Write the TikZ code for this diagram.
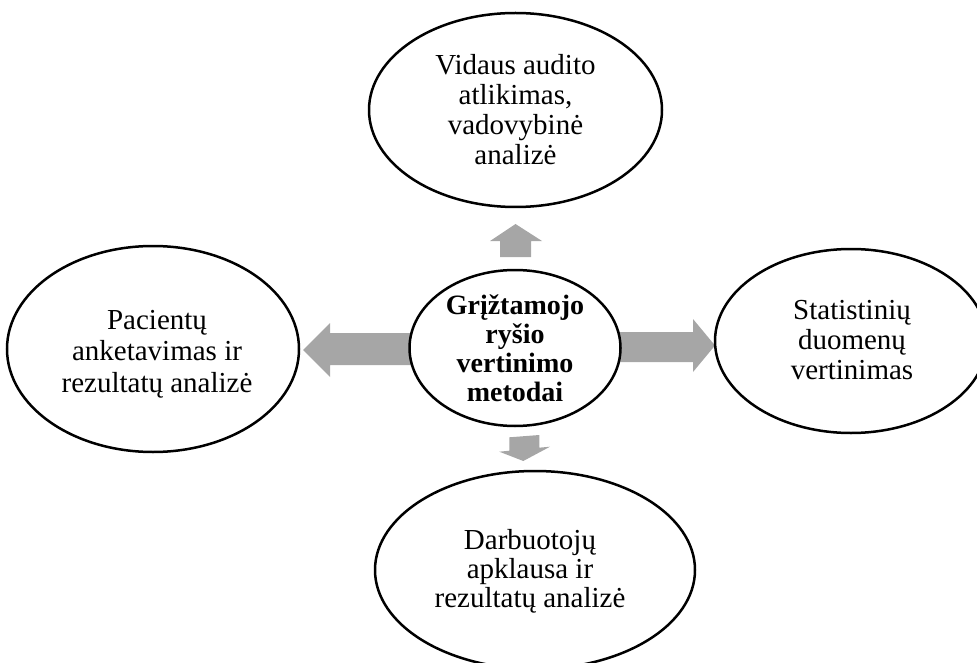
\documentclass[tikz,border=0pt]{standalone}
\usepackage{fontspec}
\setmainfont{Liberation Serif}
\usetikzlibrary{shapes.geometric}
\definecolor{arrowgray}{RGB}{166,166,166}
\begin{document}
\begin{tikzpicture}[x=1pt,y=-1pt,
  bubble/.style={draw=black, line width=2.5pt, fill=white, ellipse, inner sep=0pt},
  bubbletext/.style={align=center, inner sep=0pt, font=\fontsize{29}{30.5}\selectfont},
  hubtext/.style={align=center, inner sep=0pt, font=\fontsize{28}{29}\selectfont\bfseries},
  blockarrow/.style={fill=arrowgray, draw=none}]
\useasboundingbox (0,0) rectangle (977,663);
\clip (0,0) rectangle (977,663);

% block arrows, drawn first so the ellipses cover their inner ends
\fill[blockarrow] (500,257) -- (500,241) -- (490,241) -- (515.5,224) -- (542,241) -- (531,241) -- (531,257) -- cycle;
\fill[blockarrow] (600,332) -- (693,332) -- (693,319) -- (715,345.5) -- (693,372) -- (693,362) -- (600,362) -- cycle;
\fill[blockarrow] (430,333) -- (330,333) -- (330,323) -- (303,350) -- (330,377) -- (330,365) -- (430,365) -- cycle;
% the lower arrow stands free of the ellipses and is slightly skewed
\fill[blockarrow] (509.3,437.3) -- (539.3,435) -- (539.3,447.7) -- (550,446.7) -- (523.3,461) -- (499.3,451.7) -- (509.3,450.7) -- cycle;

% ellipses
\node[bubble, minimum width=211pt, minimum height=156pt] (hub) at (515,348) {};
\node[bubble, minimum width=293pt, minimum height=194pt] (audit) at (515.5,110) {};
\node[bubble, minimum width=292pt, minimum height=206pt] (patients) at (153,349) {};
\node[bubble, minimum width=272pt, minimum height=184pt] (stats) at (851,341) {};
\node[bubble, minimum width=320pt, minimum height=198pt] (staff) at (535,570) {};

% texts
\node[hubtext] (hub-t) at (515,348) {Grįžtamojo\\ryšio\\vertinimo\\metodai};
\node[bubbletext, font=\fontsize{29}{30}\selectfont] (audit-t) at (515.5,110) {Vidaus audito\\atlikimas,\\vadovybinė\\analizė};
\node[bubbletext, font=\fontsize{29}{31.5}\selectfont] (patients-t) at (157,354) {Pacientų\\anketavimas ir\\rezultatų analizė};
\node[bubbletext, font=\fontsize{29}{30}\selectfont] (stats-t) at (852,340) {Statistinių\\duomenų\\vertinimas};
\node[bubbletext, font=\fontsize{29}{29}\selectfont] (staff-t) at (530,571) {Darbuotojų\\apklausa ir\\rezultatų analizė};
\end{tikzpicture}
\end{document}
